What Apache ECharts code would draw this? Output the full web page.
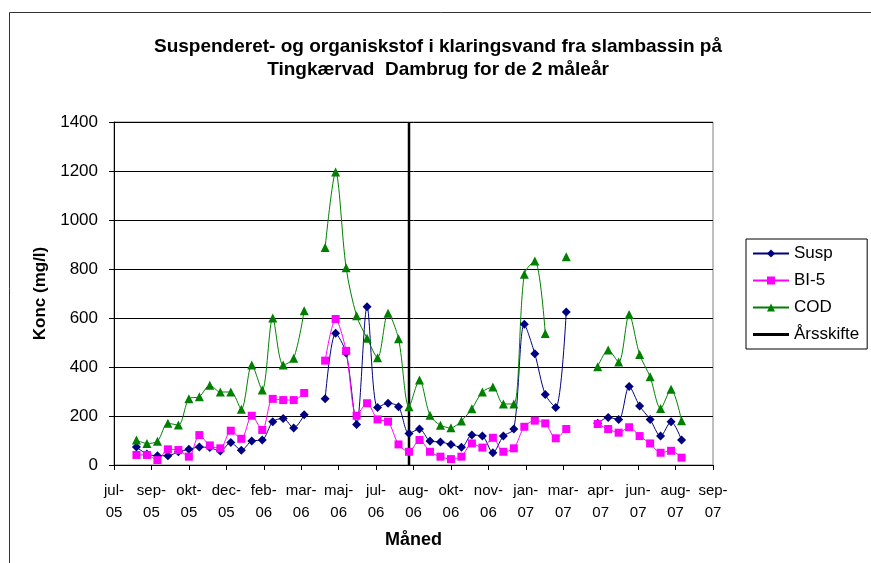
<!DOCTYPE html>
<html>
<head>
<meta charset="utf-8">
<script src="https://cdn.jsdelivr.net/npm/echarts@6/dist/echarts.min.js"></script>
<style>
  html, body { margin: 0; padding: 0; background: #fff; }
  #chart { width: 871px; height: 563px; }
</style>
</head>
<body>
<div id="chart"></div>
<script>
// dage efter 18. juli 2005 (prøve hver 14. dag)
var dage = [30, 44, 58, 72, 86, 100, 114, 128, 142, 156, 170, 184, 198, 212, 226, 240, 254, 268,
  282, 296, 310, 324, 338, 352, 366, 380, 394, 408, 422, 436, 450, 464, 478, 492, 506, 520, 534,
  548, 562, 576, 590, 604, 618, 632, 646, 660, 674, 688, 702, 716, 730, 744, 758];

var susp = [73, 45, 38, 38, 54, 64, 73, 71, 57, 92, 60, 98, 102, 177, 190, 151, 205, null,
  270, 538, 457, 165, 646, 235, 252, 238, 129, 147, 98, 94, 84, 72, 122, 118, 50, 118, 147,
  574, 454, 288, 235, 625, null, null, 170, 194, 186, 320, 241, 186, 118, 177, 102];

var bi5 = [41, 41, 20, 64, 61, 34, 122, 80, 68, 140, 107, 201, 143, 270, 265, 265, 294, null,
  426, 596, 466, 201, 252, 186, 177, 84, 54, 102, 54, 34, 24, 34, 88, 71, 111, 54, 68,
  156, 181, 170, 109, 147, null, null, 167, 147, 132, 154, 118, 88, 50, 58, 30];

var cod = [102, 88, 97, 170, 163, 270, 279, 326, 298, 298, 228, 408, 306, 600, 408, 436, 630, null,
  888, 1196, 805, 609, 517, 438, 619, 515, 238, 347, 203, 162, 152, 180, 230, 298, 318, 249, 249,
  779, 833, 537, null, 850, null, null, 401, 469, 420, 614, 451, 360, 231, 309, 181];

var aarsskifte = 394; // dag for skift mellem måleår

var maaneder = ['jul-\n05', 'sep-\n05', 'okt-\n05', 'dec-\n05', 'feb-\n06', 'mar-\n06',
  'maj-\n06', 'jul-\n06', 'aug-\n06', 'okt-\n06', 'nov-\n06', 'jan-\n07', 'mar-\n07',
  'apr-\n07', 'jun-\n07', 'aug-\n07', 'sep-\n07'];
var tickAfstand = 50;

function par(v) {
  return dage.map(function (d, i) { return [d, v[i] == null ? '-' : v[i]]; });
}

var font = 'Liberation Sans, Arial, sans-serif';

var option = {
  animation: false,
  title: {
    text: 'Suspenderet- og organiskstof i klaringsvand fra slambassin på\nTingkærvad  Dambrug for de 2 måleår',
    left: 433,
    top: 30,
    textAlign: 'center',
    textStyle: { fontFamily: font, fontSize: 19, fontWeight: 'bold', color: '#000', lineHeight: 23 }
  },
  legend: {
    orient: 'vertical',
    left: 746,
    top: 239,
    padding: [6, 8, 6, 6],
    itemWidth: 36,
    itemHeight: 10,
    itemGap: 10,
    borderColor: '#000',
    borderWidth: 1,
    textStyle: { fontFamily: font, fontSize: 17, color: '#000' },
    data: ['Susp', 'BI-5', 'COD', { name: 'Årsskifte', icon: 'path://M0 0H36V3H0Z' }]
  },
  grid: {
    left: 114, right: 158, top: 122, bottom: 98,
    show: true, borderColor: '#808080', borderWidth: 1
  },
  xAxis: {
    type: 'value',
    min: 0,
    max: tickAfstand * (maaneder.length - 1),
    interval: tickAfstand,
    name: 'Måned',
    nameLocation: 'middle',
    nameGap: 66,
    nameTextStyle: { fontFamily: font, fontSize: 18, fontWeight: 'bold', color: '#000' },
    axisLine: { lineStyle: { color: '#000', width: 1 } },
    axisTick: { length: 5, lineStyle: { color: '#000' } },
    splitLine: { show: false },
    axisLabel: {
      fontFamily: font,
      fontSize: 15,
      lineHeight: 22,
      color: '#000',
      margin: 15,
      formatter: function (v) { return maaneder[Math.round(v / tickAfstand)] || ''; }
    }
  },
  yAxis: {
    type: 'value',
    min: 0,
    max: 1400,
    interval: 200,
    name: 'Konc (mg/l)',
    nameLocation: 'middle',
    nameRotate: 90,
    nameGap: 62,
    nameTextStyle: { fontFamily: font, fontSize: 17, fontWeight: 'bold', color: '#000' },
    axisLine: { show: true, lineStyle: { color: '#000', width: 1 } },
    axisTick: { show: true, length: 5, lineStyle: { color: '#000' } },
    splitLine: { lineStyle: { color: '#000', width: 1 } },
    axisLabel: {
      fontFamily: font, fontSize: 17, color: '#000', margin: 16,
      formatter: function (v) { return String(v); }
    }
  },
  series: [
    {
      name: 'Susp', type: 'line', data: par(susp), smooth: 0.3,
      symbol: 'diamond', symbolSize: 9, showAllSymbol: true,
      itemStyle: { color: '#000080' }, lineStyle: { color: '#000080', width: 1 }
    },
    {
      name: 'BI-5', type: 'line', data: par(bi5), smooth: 0.3,
      symbol: 'rect', symbolSize: 8, showAllSymbol: true,
      itemStyle: { color: '#FF00FF' }, lineStyle: { color: '#FF00FF', width: 1 }
    },
    {
      name: 'COD', type: 'line', data: par(cod), smooth: 0.3,
      symbol: 'triangle', symbolSize: 9, showAllSymbol: true,
      itemStyle: { color: '#008000' }, lineStyle: { color: '#008000', width: 1 }
    },
    {
      name: 'Årsskifte', type: 'line', symbol: 'none',
      data: [[aarsskifte, 0], [aarsskifte, 1400]],
      itemStyle: { color: '#000' }, lineStyle: { color: '#000', width: 2.5 }
    }
  ],
  graphic: [
    {
      type: 'rect', silent: true, z: -1,
      shape: { x: 9.5, y: 12.5, width: 900, height: 600 },
      style: { fill: 'none', stroke: '#333', lineWidth: 1 }
    }
  ]
};

var chart = echarts.init(document.getElementById('chart'), null, { renderer: 'canvas' });
chart.setOption(option);
</script>
</body>
</html>
